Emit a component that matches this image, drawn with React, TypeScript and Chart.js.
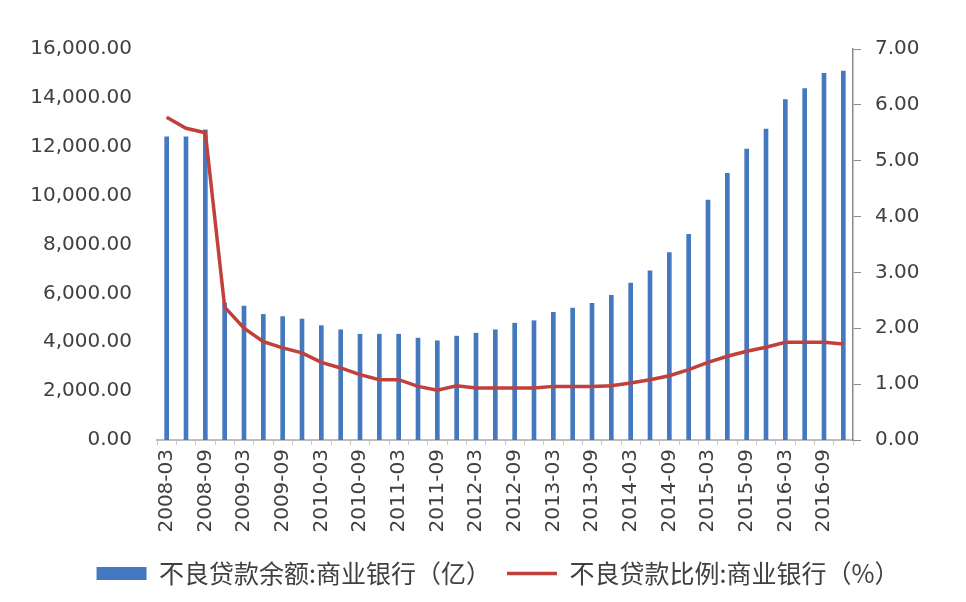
import React, { useEffect, useRef } from "react";
import { Chart, registerables } from "chart.js";

Chart.register(...registerables);

const categories: string[] = [
  "2008-03", "2008-06", "2008-09", "2008-12",
  "2009-03", "2009-06", "2009-09", "2009-12",
  "2010-03", "2010-06", "2010-09", "2010-12",
  "2011-03", "2011-06", "2011-09", "2011-12",
  "2012-03", "2012-06", "2012-09", "2012-12",
  "2013-03", "2013-06", "2013-09", "2013-12",
  "2014-03", "2014-06", "2014-09", "2014-12",
  "2015-03", "2015-06", "2015-09", "2015-12",
  "2016-03", "2016-06", "2016-09", "2016-12",
];

// 不良贷款余额:商业银行（亿）
const nplBalance: number[] = [
  12410, 12410, 12690, 5600,
  5480, 5140, 5050, 4950,
  4680, 4510, 4330, 4330,
  4330, 4170, 4060, 4250,
  4370, 4510, 4780, 4880,
  5220, 5400, 5590, 5920,
  6420, 6920, 7670, 8420,
  9820, 10910, 11900, 12720,
  13930, 14380, 15000, 15100,
];

// 不良贷款比例:商业银行（%）
const nplRatio: number[] = [
  5.78, 5.58, 5.5, 2.38,
  2.0, 1.76, 1.65, 1.56,
  1.39, 1.29, 1.17, 1.08,
  1.08, 0.96, 0.89, 0.97,
  0.93, 0.93, 0.93, 0.93,
  0.96, 0.96, 0.96, 0.97,
  1.02, 1.08, 1.15, 1.26,
  1.39, 1.5, 1.59, 1.66,
  1.75, 1.75, 1.75, 1.72,
];

const leftTicks = { min: 0, max: 16000, step: 2000 };
const rightTicks = { min: 0, max: 7, step: 1 };

const seriesNames = ["不良贷款余额:商业银行（亿）", "不良贷款比例:商业银行（%）"];

export default function App() {
  const ref = useRef<HTMLCanvasElement | null>(null);

  useEffect(() => {
    if (!ref.current) return;
    const tickFont = { family: "'DejaVu Sans', sans-serif", size: 20 };
    const textColor = "#404040";
    const chart = new Chart(ref.current, {
      type: "bar",
      data: {
        labels: categories,
        datasets: [
          {
            type: "bar",
            label: seriesNames[0],
            data: nplBalance,
            backgroundColor: "#4579bf",
            borderWidth: 0,
            barThickness: 4,
            yAxisID: "y",
            order: 1,
            pointStyle: "rect",
          } as any,
          {
            type: "line",
            label: seriesNames[1],
            data: nplRatio,
            borderColor: "#c0403c",
            backgroundColor: "#c0403c",
            borderWidth: 3.5,
            pointRadius: 0,
            tension: 0,
            yAxisID: "y1",
            order: 0,
            pointStyle: "line",
          } as any,
        ],
      },
      options: {
        animation: false,
        responsive: true,
        maintainAspectRatio: false,
        layout: { padding: { left: 30, right: 0, top: 49, bottom: 6 } },
        plugins: {
          tooltip: { enabled: false },
          legend: {
            position: "bottom",
            labels: {
              usePointStyle: true,
              pointStyleWidth: 50,
              boxHeight: 13,
              padding: 16,
              color: textColor,
              font: { family: "'Noto Sans CJK SC', sans-serif", size: 25 },
              sort: (a: any, b: any) => a.datasetIndex - b.datasetIndex,
            },
          },
        },
        scales: {
          x: {
            offset: true,
            afterFit: (s: any) => {
              s.height = 105;
              s.paddingLeft = 0;
              s.paddingRight = 0;
            },
            grid: {
              display: true,
              drawOnChartArea: false,
              drawTicks: true,
              tickLength: 5,
              color: "#c8c8c8",
            },
            border: { display: true, color: "#bdbdbd", width: 2 },
            ticks: {
              autoSkip: false,
              maxRotation: 90,
              minRotation: 90,
              padding: 4,
              color: textColor,
              font: tickFont,
              callback: (_v: any, i: number) => (i % 2 === 0 ? categories[i] : ""),
            },
          },
          y: {
            position: "left",
            min: leftTicks.min,
            max: leftTicks.max,
            afterFit: (s: any) => {
              s.width = 127;
              s.paddingTop = 0;
              s.paddingBottom = 0;
            },
            grid: { display: false, drawTicks: false },
            border: { display: false },
            ticks: {
              stepSize: leftTicks.step,
              padding: 25,
              color: textColor,
              font: tickFont,
              callback: (v: any) =>
                Number(v).toLocaleString("en-US", {
                  minimumFractionDigits: 2,
                  maximumFractionDigits: 2,
                }),
            },
          },
          y1: {
            position: "right",
            min: rightTicks.min,
            max: rightTicks.max,
            afterFit: (s: any) => {
              s.width = 113;
              s.paddingTop = 0;
              s.paddingBottom = 0;
            },
            grid: {
              display: true,
              drawOnChartArea: false,
              drawTicks: true,
              tickLength: 8,
              color: "#8c8c8c",
            },
            border: { display: true, color: "#8c8c8c", width: 1.5 },
            ticks: {
              stepSize: rightTicks.step,
              padding: 14,
              color: textColor,
              font: tickFont,
              callback: (v: any) => Number(v).toFixed(2),
            },
          },
        },
      } as any,
    });
    return () => chart.destroy();
  }, []);

  return (
    <div
      style={{
        position: "fixed",
        left: 0,
        top: 0,
        width: 966,
        height: 602,
        background: "#ffffff",
      }}
    >
      <canvas ref={ref} />
    </div>
  );
}
